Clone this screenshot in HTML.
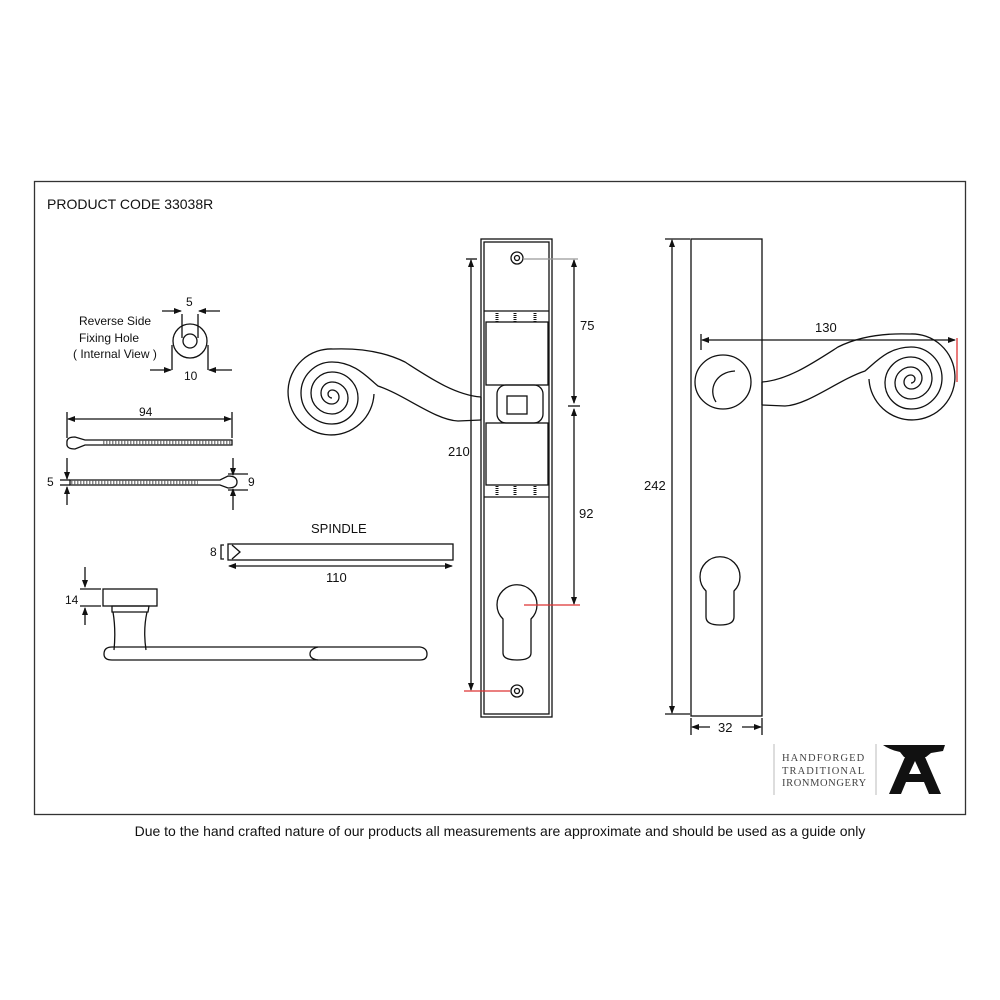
<!DOCTYPE html>
<html><head><meta charset="utf-8"><style>
html,body{margin:0;padding:0;background:#fff;}
svg{display:block;}
.s{font-family:"Liberation Sans",sans-serif;fill:#111;}
.lg{font-family:"Liberation Serif",serif;fill:#444;}
</style></head><body>
<svg width="1000" height="1000" viewBox="0 0 1000 1000" xmlns="http://www.w3.org/2000/svg">
<defs>
<marker id="a" markerWidth="8" markerHeight="8" refX="7" refY="4" orient="auto-start-reverse" markerUnits="userSpaceOnUse"><path d="M0,1 L8,4 L0,7 Z" fill="#111"/></marker>
<g id="lever" fill="none" stroke="#111" stroke-width="1.3">
<path d="M481,397 C455,395 430,378 405,362 C385,352 360,348 333,349 A43,43 0 1,0 374,394"/>
<path d="M481,420 L458,421 C435,420 405,395 378,386 C368,378 355,362 332,362 A31,31 0 0,0 332,424 A26,26 0 0,0 332,372 A21,21 0 0,0 332,414 A16,16 0 0,0 332,382 A11,11 0 0,0 332,404 A7,7 0 0,0 332,390 A4,4 0 0,0 332,398"/>
<path d="M481,397 L481,420"/>
</g>
</defs>
<rect x="0" y="0" width="1000" height="1000" fill="#fff"/>
<rect x="34.5" y="181.5" width="931" height="633" fill="none" stroke="#333" stroke-width="1.3"/>
<text class="s" x="47" y="209" font-size="14">PRODUCT CODE  33038R</text>

<g fill="none" stroke="#111" stroke-width="1.3">
<circle cx="190" cy="341" r="17"/>
<circle cx="190" cy="341" r="7"/>
<line x1="182" y1="314" x2="182" y2="338"/><line x1="198" y1="314" x2="198" y2="338"/>
<line x1="162" y1="311" x2="181" y2="311" marker-end="url(#a)"/>
<line x1="220" y1="311" x2="199" y2="311" marker-end="url(#a)"/>
<line x1="172" y1="345" x2="172" y2="370"/><line x1="208" y1="345" x2="208" y2="370"/>
<line x1="150" y1="370" x2="171" y2="370" marker-end="url(#a)"/>
<line x1="232" y1="370" x2="209" y2="370" marker-end="url(#a)"/>

<line x1="67" y1="412" x2="67" y2="438"/><line x1="232" y1="412" x2="232" y2="438"/>
<line x1="68" y1="419" x2="231" y2="419" marker-start="url(#a)" marker-end="url(#a)"/>
<path d="M75,437 Q66,437 67,443 Q66,449 75,449 L85,445 L232,445 L232,440 L85,440 Z"/>
<path d="M103,442.5 L232,442.5" stroke="#555" stroke-dasharray="1.5 1.5" stroke-width="5" opacity="0.7"/>
<path d="M70,480 L220,480 L228,476 Q237,476 237,482 Q237,488 228,488 L220,485 L70,485 Z"/>
<path d="M71,482.5 L198,482.5" stroke="#555" stroke-dasharray="1.5 1.5" stroke-width="5" opacity="0.7"/>
<line x1="67" y1="458" x2="67" y2="479" marker-end="url(#a)"/>
<line x1="67" y1="505" x2="67" y2="487" marker-end="url(#a)"/>
<line x1="60" y1="480" x2="70" y2="480"/><line x1="60" y1="485" x2="70" y2="485"/>
<line x1="233" y1="458" x2="233" y2="475" marker-end="url(#a)"/>
<line x1="233" y1="510" x2="233" y2="489" marker-end="url(#a)"/>
<line x1="228" y1="474" x2="248" y2="474"/><line x1="228" y1="490" x2="248" y2="490"/>

<rect x="228" y="544" width="225" height="16"/>
<path d="M232,545 L240,552 L232,559"/>
<path d="M224,545 L221,545 L221,559 L224,559"/>
<line x1="229" y1="566" x2="452" y2="566" marker-start="url(#a)" marker-end="url(#a)"/>

<rect x="103" y="589" width="54" height="17"/>
<path d="M112,606 L149,606 L148,612 L112,612 Z"/>
<path d="M113,612 Q116,630 114,650 M147,612 Q143,630 146,650"/>
<path d="M112,647 L420,647 Q427,648 427,654 Q427,660 420,660 L112,660 Q104,660 104,654 Q104,647 112,647 Z"/>
<path d="M318,647 Q310,649 310,654 Q310,659 318,660"/>
<line x1="85" y1="567" x2="85" y2="587" marker-end="url(#a)"/>
<line x1="85" y1="625" x2="85" y2="608" marker-end="url(#a)"/>
<line x1="80" y1="589" x2="101" y2="589"/><line x1="80" y1="606" x2="101" y2="606"/>
</g>

<use href="#lever"/>

<g fill="none" stroke="#111" stroke-width="1.3">
<rect x="481" y="239" width="71" height="478"/>
<rect x="484" y="242" width="65" height="472"/>
<circle cx="517" cy="258" r="6"/><circle cx="517" cy="258" r="2.5"/>
<circle cx="517" cy="691" r="6"/><circle cx="517" cy="691" r="2.5"/>
<line x1="484" y1="311" x2="549" y2="311"/>
<line x1="484" y1="497" x2="549" y2="497"/>
<rect x="486" y="322" width="62" height="63"/>
<rect x="486" y="423" width="62" height="62"/>
<rect x="497" y="385" width="46" height="38" rx="9"/>
<rect x="507" y="396" width="20" height="18"/>
<path d="M503,619 A20,20 0 1,1 531,619 L531,653 Q531,660 517,660 Q503,660 503,653 Z"/>
</g>
<g stroke="#111" stroke-width="3" stroke-dasharray="1 1">
<line x1="497" y1="313" x2="497" y2="322"/><line x1="515" y1="313" x2="515" y2="322"/><line x1="535" y1="313" x2="535" y2="322"/>
<line x1="497" y1="486" x2="497" y2="495"/><line x1="515" y1="486" x2="515" y2="495"/><line x1="535" y1="486" x2="535" y2="495"/>
</g>
<g fill="none" stroke="#111" stroke-width="1.3">
<line x1="471" y1="260" x2="471" y2="690" marker-start="url(#a)" marker-end="url(#a)"/>
<line x1="466" y1="259" x2="477" y2="259"/>
<line x1="574" y1="260" x2="574" y2="403" marker-start="url(#a)" marker-end="url(#a)"/>
<line x1="574" y1="409" x2="574" y2="604" marker-start="url(#a)" marker-end="url(#a)"/>
<line x1="568" y1="406" x2="580" y2="406"/>
</g>
<line x1="523" y1="259" x2="578" y2="259" stroke="#999" stroke-width="1.2"/>
<line x1="524" y1="605" x2="580" y2="605" stroke="#d33" stroke-width="1.3"/>
<line x1="464" y1="691" x2="510" y2="691" stroke="#d33" stroke-width="1.3"/>

<g fill="none" stroke="#111" stroke-width="1.3">
<rect x="691" y="239" width="71" height="477"/>
<path d="M706,591 A20,20 0 1,1 734,591 L734,617 Q734,625 720,625 Q706,625 706,617 Z"/>
<ellipse cx="723" cy="382" rx="28" ry="27"/>
<path d="M735,371 C715,372 708,390 716,402"/>
</g>
<use href="#lever" transform="translate(1243,-15) scale(-1,1)"/>
<g fill="none" stroke="#111" stroke-width="1.3">
<line x1="702" y1="340" x2="955" y2="340" marker-start="url(#a)" marker-end="url(#a)"/>
<line x1="701" y1="334" x2="701" y2="350"/>
<line x1="672" y1="240" x2="672" y2="713" marker-start="url(#a)" marker-end="url(#a)"/>
<line x1="665" y1="239" x2="690" y2="239"/><line x1="665" y1="714" x2="690" y2="714"/>
<line x1="691" y1="718" x2="691" y2="735"/><line x1="762" y1="718" x2="762" y2="735"/>
<line x1="692" y1="727" x2="710" y2="727" marker-start="url(#a)"/>
<line x1="742" y1="727" x2="761" y2="727" marker-end="url(#a)"/>
</g>
<line x1="957" y1="338" x2="957" y2="382" stroke="#d33" stroke-width="1.3"/>

<line x1="774" y1="744" x2="774" y2="795" stroke="#bbb" stroke-width="1"/>
<line x1="876" y1="744" x2="876" y2="795" stroke="#bbb" stroke-width="1"/>
<text class="lg" x="782" y="761" font-size="10.5" letter-spacing="1.1">HANDFORGED</text>
<text class="lg" x="782" y="774" font-size="10.5" letter-spacing="1.1">TRADITIONAL</text>
<text class="lg" x="782" y="786" font-size="10.5" letter-spacing="0.6">IRONMONGERY</text>
<path d="M883,745 L945,745 L943,751 L931,753 L926,757 L904,757 L900,752 Q890,750 883,745 Z" fill="#111"/>
<path fill-rule="evenodd" d="M905,757 L925,757 L941,794 L929,794 L924,782 L906,782 L901,794 L889,794 Z M909,774 L921,774 L915,761 Z" fill="#111"/>

<g class="s">
<text class="s" x="79" y="325" font-size="12">Reverse Side</text>
<text class="s" x="79" y="342" font-size="12">Fixing Hole</text>
<text class="s" x="73" y="358" font-size="12">( Internal View )</text>
<text class="s" x="186" y="306" font-size="12">5</text>
<text class="s" x="184" y="380" font-size="12">10</text>
<text class="s" x="139" y="416" font-size="12">94</text>
<text class="s" x="47" y="486" font-size="12">5</text>
<text class="s" x="248" y="486" font-size="12">9</text>
<text class="s" x="311" y="533" font-size="13">SPINDLE</text>
<text class="s" x="210" y="556" font-size="12">8</text>
<text class="s" x="326" y="582" font-size="13">110</text>
<text class="s" x="65" y="604" font-size="12">14</text>
<text class="s" x="448" y="456" font-size="13">210</text>
<text class="s" x="580" y="330" font-size="13">75</text>
<text class="s" x="579" y="518" font-size="13">92</text>
<text class="s" x="815" y="332" font-size="13">130</text>
<text class="s" x="644" y="490" font-size="13">242</text>
<text class="s" x="718" y="732" font-size="13">32</text>
<text class="s" x="500" y="836" font-size="14" text-anchor="middle">Due to the hand crafted nature of our products all measurements are approximate and should be used as a guide only</text>
</g>
</svg>
</body></html>
